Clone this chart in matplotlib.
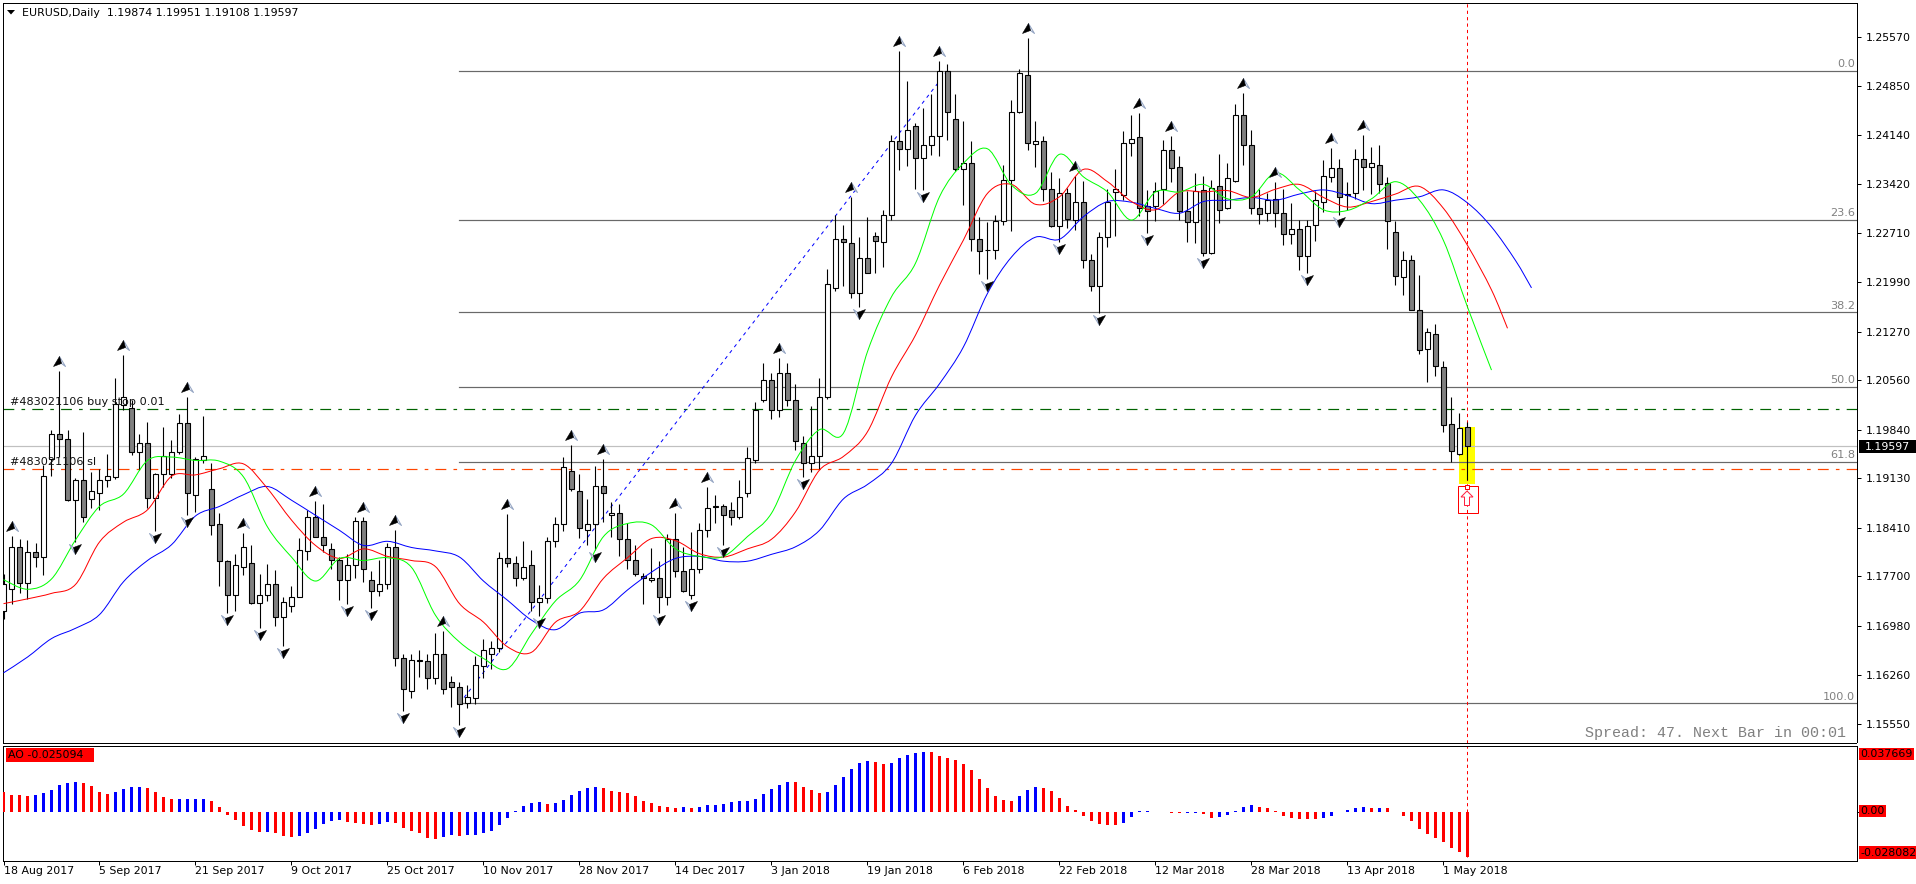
import matplotlib
matplotlib.use("Agg")
import matplotlib.pyplot as plt
import numpy as np
from matplotlib.patches import Rectangle, Polygon, PathPatch
from matplotlib.path import Path
from matplotlib.transforms import Affine2D, ScaledTranslation

W, H = 1916, 884
PX = 0.72  # one pixel in points at 100 dpi

# EURUSD daily quotes, in units of 0.0001
highs = [
 11774,11829,11824,11823,11819,11932,11983,12069,11983,11913,11980,11922,11927,11949,12059,12093,12028,11978,11995,11921,
 11988,11969,12007,12032,11944,12004,11936,11862,11794,11803,11833,11815,11773,11788,11779,11739,11756,11826,11867,11880,
 11875,11819,11798,11803,11857,11857,11777,11793,11818,11837,11657,11657,11662,11656,11687,11690,11624,11615,11611,11654,
 11678,11675,11805,11861,11800,11821,11808,11757,11827,11856,11944,11961,11920,11883,11931,11941,11878,11876,11848,11815,
 11775,11811,11792,11831,11862,11812,11834,11848,11901,11889,11875,11878,11910,11958,12025,12081,12066,12088,12082,12051,
 11975,12018,12059,12218,12297,12283,12323,12265,12295,12273,12305,12414,12537,12493,12431,12453,12474,12522,12518,12474,
 12434,12405,12294,12287,12297,12370,12465,12510,12556,12434,12412,12360,12351,12337,12354,12347,12241,12272,12335,12364,
 12420,12443,12446,12334,12345,12407,12412,12383,12333,12358,12354,12349,12387,12373,12460,12476,12421,12335,12330,12345,
 12335,12315,12290,12290,12332,12378,12395,12379,12345,12393,12414,12397,12400,12353,12289,12245,12239,12210,12132,12138,
 12084,12031,12008,11995.1]
lows = [
 11708,11730,11745,11737,11784,11772,11916,11944,11880,11820,11849,11869,11866,11901,11912,12012,11947,11925,11870,11836,
 11901,11914,11948,11859,11864,11935,11830,11756,11716,11719,11772,11729,11694,11734,11697,11668,11718,11739,11793,11827,
 11806,11781,11735,11729,11768,11762,11723,11741,11752,11639,11573,11592,11623,11605,11613,11598,11579,11553,11578,11584,
 11622,11635,11660,11784,11756,11764,11720,11712,11731,11813,11836,11894,11826,11815,11809,11849,11828,11799,11780,11771,
 11729,11761,11717,11728,11769,11747,11737,11775,11828,11848,11815,11845,11854,11886,11936,12024,12000,12003,12018,11954,
 11915,11922,11927,12029,12186,12194,12176,12163,12213,12213,12222,12290,12363,12369,12335,12334,12385,12383,12407,12361,
 12312,12245,12211,12204,12233,12283,12274,12447,12392,12368,12318,12280,12258,12278,12276,12220,12186,12154,12250,12267,
 12319,12383,12296,12271,12289,12314,12346,12290,12258,12256,12237,12240,12285,12306,12346,12371,12299,12284,12289,12280,
 12253,12255,12217,12213,12259,12302,12346,12298,12305,12321,12334,12328,12329,12248,12195,12180,12159,12094,12053,12063,
 11980,11937,11947,11910.8]
opens = [
 11720,11752,11813,11760,11806,11798,11941,11978,11971,11881,11910,11883,11891,11911,11915,12020,12015,11952,11965,11884,
 11919,11919,11951,11993,11889,11940,11898,11846,11792,11743,11784,11789,11731,11743,11758,11710,11727,11739,11807,11857,
 11828,11810,11794,11765,11786,11851,11764,11748,11759,11812,11650,11603,11648,11646,11622,11656,11615,11608,11585,11592,
 11639,11657,11665,11796,11789,11768,11786,11732,11738,11821,11847,11924,11895,11838,11846,11902,11860,11863,11824,11794,
 11771,11764,11768,11740,11824,11777,11743,11780,11838,11871,11872,11867,11857,11892,11940,12028,12057,12013,12066,12027,
 11965,11935,11946,12031,12191,12262,12257,12183,12235,12267,12258,12297,12406,12393,12427,12381,12400,12412,12508,12437,
 12365,12374,12262,12247,12247,12289,12349,12448,12502,12401,12405,12336,12282,12329,12290,12316,12232,12193,12265,12331,
 12326,12403,12411,12311,12311,12335,12392,12367,12303,12287,12334,12242,12339,12307,12347,12444,12400,12307,12300,12321,
 12300,12269,12277,12238,12283,12317,12353,12366,12328,12330,12379,12368,12371,12344,12272,12207,12231,12159,12102,12123,
 12076,11992,11949,11987.4]
closes = [
 11758,11812,11760,11806,11798,11917,11978,11971,11881,11910,11857,11894,11911,11916,12021,12032,11952,11965,11884,11919,
 11945,11952,11993,11892,11941,11946,11845,11792,11743,11786,11813,11731,11743,11758,11710,11732,11739,11808,11857,11828,
 11816,11794,11765,11786,11851,11780,11748,11759,11812,11650,11606,11648,11646,11622,11656,11606,11608,11584,11594,11641,
 11663,11665,11796,11790,11768,11784,11733,11738,11821,11847,11929,11897,11841,11846,11902,11892,11863,11825,11794,11773,
 11768,11768,11740,11825,11777,11749,11781,11838,11870,11872,11860,11857,11886,11942,12013,12057,12013,12067,12028,11967,
 11936,11946,12031,12196,12262,12258,12184,12235,12213,12260,12297,12406,12394,12421,12381,12400,12412,12508,12448,12365,
 12374,12262,12245,12246,12289,12349,12448,12504,12403,12406,12336,12282,12329,12292,12316,12232,12193,12265,12317,12335,
 12403,12409,12308,12303,12333,12392,12366,12303,12287,12333,12242,12337,12305,12351,12443,12400,12307,12299,12319,12301,
 12269,12277,12238,12281,12320,12355,12366,12324,12326,12379,12368,12373,12343,12288,12208,12231,12159,12101,12127,12077,
 11991,11953,11987,11959.7]

# Alligator balance lines, sampled every third bar (same units as the quotes)
lips = [
 11765,11751,11766,11823,11872,11890,11939,11944,11939,11938,11915,11842,11798,11763,11796,11793,11797,11783,11713,11674,
 11650,11635,11686,11734,11764,11828,11847,11845,11810,11799,11799,11828,11862,11939,11984,11979,12098,12178,12227,12324,
 12373,12394,12341,12329,12386,12353,12331,12290,12331,12331,12342,12321,12324,12359,12334,12305,12304,12321,12346,12319,
 12260,12163,12071]
lips_bars = list(range(0, 187, 3))
teeth = [
 11730,11737,11745,11758,11820,11849,11867,11916,11918,11927,11934,11898,11852,11815,11796,11810,11799,11793,11784,11730,
 11703,11667,11659,11703,11719,11767,11797,11825,11822,11803,11798,11810,11824,11864,11925,11945,11981,12061,12122,12195,
 12261,12329,12342,12313,12324,12364,12346,12317,12305,12331,12331,12333,12323,12335,12342,12323,12309,12317,12328,12339,
 12307,12253,12188,12132]
teeth_bars = list(range(0, 187, 3)) + [188]
jaw = [
 11629,11652,11679,11694,11714,11762,11793,11816,11858,11872,11889,11901,11881,11859,11837,11815,11821,11812,11807,11798,
 11763,11735,11706,11692,11716,11721,11750,11776,11796,11799,11792,11792,11802,11813,11837,11883,11904,11935,12005,12051,
 12105,12183,12236,12265,12262,12295,12317,12316,12307,12300,12317,12319,12323,12319,12328,12334,12326,12314,12319,12324,
 12334,12315,12280,12231,12191]
jaw_bars = list(range(0, 190, 3)) + [191]

# Awesome Oscillator, in units of 0.001
ao = [
 12.5,10.7,10.7,10.0,10.7,11.9,13.8,16.9,18.2,18.8,18.2,16.3,12.5,11.3,12.5,14.4,15.7,15.7,15.0,12.5,
 9.4,8.2,8.2,8.2,8.2,8.2,6.9,3.1,-1.7,-5.0,-8.8,-11.3,-12.5,-12.5,-13.2,-15.0,-15.7,-15.0,-13.2,-10.7,
 -7.5,-5.6,-5.0,-6.3,-6.9,-7.5,-8.2,-7.5,-6.3,-6.9,-10.0,-11.9,-13.2,-16.3,-16.9,-15.7,-14.4,-15.0,-14.4,-14.4,
 -13.2,-11.9,-8.2,-3.8,0.6,3.8,5.6,6.3,5.0,5.6,7.5,10.7,13.2,15.0,15.7,15.0,13.2,12.5,11.9,10.0,
 6.9,5.6,3.8,3.1,2.5,3.1,2.5,3.1,4.4,4.4,5.0,6.3,6.9,6.9,8.2,11.3,14.4,16.9,18.8,18.8,
 15.7,13.8,11.9,12.5,16.9,21.9,27.0,30.7,32.0,31.4,30.1,30.7,33.9,35.7,37.0,37.669,37.6,35.1,33.9,32.6,
 30.1,26.3,20.7,15.0,10.0,7.5,6.9,10.0,13.8,15.7,15.0,13.2,8.8,3.8,1.3,-2.5,-5.6,-7.5,-8.2,-8.2,
 -6.9,-3.1,0.4,0.4,-0.2,-0.4,-0.8,-0.8,-0.8,-0.8,-1.3,-3.8,-3.1,-1.9,0.6,3.1,4.4,3.1,2.5,0.4,
 -2.5,-3.8,-4.4,-4.8,-4.8,-4.2,-2.5,-0.2,1.3,2.5,3.3,2.7,2.7,2.1,-0.2,-2.9,-5.9,-10.5,-14.2,-16.7,
 -19.2,-23.0,-25.094,-28.082]
ao_runs = [("R",4),("B",6),("R",4),("B",4),("R",4),("B",4),("R",7),("B",1),("R",3),("B",6),("R",4),("B",2),
           ("R",6),("B",2),("R",1),("B",10),("R",1),("B",6),("R",10),("B",1),("R",1),("B",12),("R",4),("B",6),
           ("R",2),("B",5),("R",11),("B",3),("R",10),("B",4),("R",4),("B",2),("R",2),("B",5),("R",8),("B",6),
           ("R",1),("B",1),("R",11)]

# Bars carrying a Bill Williams fractal
fractal_up = [1,7,15,23,30,39,45,49,55,63,71,75,84,88,97,106,112,117,128,134,142,146,155,159,166,170]
fractal_down = [9,19,23,28,32,35,43,46,50,57,67,74,82,86,90,100,107,115,123,132,137,143,150,163,167]

# Fibonacci retracement anchors and levels
fib_high = 1.25081
fib_low = 1.15843
fib_start_bar = 57
fib_end_bar = 118
fib_levels = [("0.0", 0.0), ("23.6", 0.236), ("38.2", 0.382), ("50.0", 0.5), ("61.8", 0.618), ("100.0", 1.0)]

price_ticks = [1.25570,1.24850,1.24140,1.23420,1.22710,1.21990,1.21270,1.20560,1.19840,1.19130,1.18410,1.17700,1.16980,1.16260,1.15550]
date_labels = ["18 Aug 2017","5 Sep 2017","21 Sep 2017","9 Oct 2017","25 Oct 2017","10 Nov 2017","28 Nov 2017","14 Dec 2017",
               "3 Jan 2018","19 Jan 2018","6 Feb 2018","22 Feb 2018","12 Mar 2018","28 Mar 2018","13 Apr 2018","1 May 2018"]

bid = 1.19597
buy_stop = 1.20135
stop_loss = 1.19268
last_bar = 183
highlight_top, highlight_bottom = 1.19877, 1.19045

to_price = lambda a: np.asarray(a, float) / 1e4
highs_p, lows_p, opens_p, closes_p = map(to_price, (highs, lows, opens, closes))
bars = np.arange(len(highs))

plt.rcParams["font.family"] = ["DejaVu Sans"]
plt.rcParams["font.size"] = 11 * PX
plt.rcParams["axes.linewidth"] = PX

fig = plt.figure(figsize=(W / 100, H / 100), dpi=100, facecolor="white")
pixels = Affine2D().scale(1, -1).translate(0, H)

def frame(left, top, right, bottom):
    return fig.add_axes([left / W, 1 - bottom / H, (right - left) / W, (bottom - top) / H])

LEFT, RIGHT = 2.5, 1856.5
ax = frame(LEFT, 2.5, RIGHT, 742.5)
sub = frame(LEFT, 745.5, RIGHT, 860.5)
bar_lim = ((LEFT - 3.5) / 8, (RIGHT - 3.5) / 8)
for a in (ax, sub):
    a.set_xlim(*bar_lim)
    a.set_facecolor("white")
ax.set_ylim(1.15273, 1.26076)
sub.set_ylim(-0.03057, 0.04162)

# Highlight behind the last candle
ax.add_patch(Rectangle((last_bar - 1.06, highlight_bottom), 2.0, highlight_top - highlight_bottom,
                       facecolor="#ffff00", edgecolor="none", zorder=1))

# Horizontal levels
for label, ratio in fib_levels:
    level = fib_high - ratio * (fib_high - fib_low)
    ax.plot([fib_start_bar, bar_lim[1]], [level, level], color="#696969", lw=1.2 * PX, zorder=1.5)
    ax.text(bar_lim[1] - 0.2, level + 0.00025, label, color="#808080", ha="right", va="bottom", fontsize=11.2 * PX)
ax.plot([fib_start_bar, fib_end_bar], [fib_low, fib_high], color="#0000ff", lw=PX,
        linestyle=(0, (3.5, 4)), zorder=1.6)
ax.axhline(bid, color="#c0c0c0", lw=1.2 * PX, zorder=1.5)
ax.axhline(buy_stop, color="#006400", lw=1.2 * PX, linestyle=(0, (9, 6, 3, 6)), zorder=1.5)
ax.axhline(stop_loss, color="#ff4500", lw=1.2 * PX, linestyle=(0, (9, 6, 3, 6)), zorder=1.5)
ax.text(0.85, buy_stop + 0.00032, "#483021106 buy stop 0.01", color="#101010", va="bottom", fontsize=11.3 * PX, zorder=6)
ax.text(0.85, stop_loss + 0.00032, "#483021106 sl", color="#101010", va="bottom", fontsize=11.3 * PX, zorder=6)

# Current-bar marker line across both panels, ending at the oscillator's last bar
ax.axvline(last_bar, color="#ff0000", lw=PX, linestyle=(0, (3.2, 3.2)), zorder=1.7)
sub.plot([last_bar, last_bar], [ao[-1] / 1e3, sub.get_ylim()[1]], color="#ff0000", lw=PX,
         linestyle=(0, (3.2, 3.2)), zorder=1.7)

# Candles
ax.vlines(bars, lows_p, highs_p, color="black", lw=1.1 * PX, zorder=3)
rising = closes_p >= opens_p
ax.bar(bars, np.abs(closes_p - opens_p), bottom=np.minimum(opens_p, closes_p), width=4.2 / 8,
       color=np.where(rising, "white", "#808080"), edgecolor="black", linewidth=1.1 * PX, zorder=3.2)

def smooth_line(axes, xs, ys, colour, z):
    """Draw a curve through the given values with Catmull-Rom style Bezier segments."""
    pts = np.column_stack([xs, ys])
    prev = np.vstack([pts[0], pts[:-1]])
    nxt = np.vstack([pts[1:], pts[-1]])
    verts = [pts[0]]
    codes = [Path.MOVETO]
    for k in range(len(pts) - 1):
        verts += [pts[k] + (nxt[k] - prev[k]) / 6, pts[k + 1] - (nxt[k + 1] - prev[k + 1]) / 6, pts[k + 1]]
        codes += [Path.CURVE4] * 3
    axes.add_patch(PathPatch(Path(verts, codes), fill=False, edgecolor=colour, lw=PX, zorder=z))

# Alligator lines
smooth_line(ax, jaw_bars, to_price(jaw), "#0000ff", 4)
smooth_line(ax, teeth_bars, to_price(teeth), "#ff0000", 4.1)
smooth_line(ax, lips_bars, to_price(lips), "#00ff00", 4.2)

# Fractal arrows: a dark half and a pale half, offset from the wick ends
dark_up = Path([(0, 5), (-6, -5), (2, -2), (0, 5)], closed=True)
pale_up = Path([(0, 5), (6, -5), (2, -2), (0, 5)], closed=True)
dark_dn = Path([(0, -5), (6, 5), (-2, 2), (0, -5)], closed=True)
pale_dn = Path([(0, -5), (-6, 5), (-2, 2), (0, -5)], closed=True)
ms = 6 / 0.5 * PX
up_shift = ax.transData + ScaledTranslation(0, 10 / 100, fig.dpi_scale_trans)
dn_shift = ax.transData + ScaledTranslation(0, -7 / 100, fig.dpi_scale_trans)
up_y = highs_p[fractal_up]
dn_y = lows_p[fractal_down]
ax.plot(fractal_up, up_y, ls="", marker=pale_up, ms=ms, mfc="white", mec="#93a4c2", mew=PX, transform=up_shift, zorder=5)
ax.plot(fractal_up, up_y, ls="", marker=dark_up, ms=ms, mfc="black", mec="black", mew=0.5 * PX, transform=up_shift, zorder=5.1)
ax.plot(fractal_down, dn_y, ls="", marker=pale_dn, ms=ms, mfc="white", mec="#93a4c2", mew=PX, transform=dn_shift, zorder=5)
ax.plot(fractal_down, dn_y, ls="", marker=dark_dn, ms=ms, mfc="black", mec="black", mew=0.5 * PX, transform=dn_shift, zorder=5.1)

# Price scale
ax.yaxis.tick_right()
ax.set_yticks(price_ticks)
ax.set_yticklabels([f"{p:.5f}" for p in price_ticks])
ax.tick_params(axis="y", direction="out", length=4 * PX, width=PX, pad=5 * PX, labelsize=11 * PX)
ax.set_xticks([])

# Awesome Oscillator histogram
ao_colours = [{"R": "#ff0000", "B": "#0000ff"}[c] for c, n in ao_runs for _ in range(n)]
sub.bar(bars, np.asarray(ao) / 1e3, width=2.8 / 8, color=ao_colours, linewidth=0, zorder=3)
sub.yaxis.tick_right()
sub.set_yticks([0])
sub.set_yticklabels([""])
sub.tick_params(axis="y", direction="out", length=4 * PX, width=PX)
sub.set_xticks(bars[::12])
sub.set_xticklabels(date_labels, ha="left")
sub.tick_params(axis="x", direction="out", length=4 * PX, width=PX, pad=2 * PX, labelsize=11 * PX)

def box_label(text, x0, x1, y0, y1, face, colour="black", tx=None):
    fig.add_artist(Rectangle((x0, y0), x1 - x0, y1 - y0, transform=pixels, facecolor=face, edgecolor="none", zorder=8))
    fig.text((x0 + 1 if tx is None else tx) / W, 1 - (y0 + y1) / 2 / H, text, color=colour,
             ha="left", va="center", fontsize=11 * PX, zorder=9)

box_label("1.19597", 1859, 1916, 440, 453, "black", "white", tx=1865)
box_label("0.037669", 1859, 1914, 748, 760, "#ff0000", tx=1860)
box_label("0.00", 1859, 1886, 805, 817, "#ff0000", tx=1860)
box_label("-0.028082", 1859, 1916, 846, 859, "#ff0000", tx=1860)
box_label("AO -0.025094", 6, 94, 748, 762, "#ff0000", tx=8)

# Chart header
fig.add_artist(Polygon([(7, 10), (15, 10), (11, 14.5)], closed=True, transform=pixels, facecolor="black", edgecolor="none"))
fig.text(21.5 / W, 1 - 12.5 / H, "EURUSD,Daily  1.19874 1.19951 1.19108 1.19597", color="black",
         ha="left", va="center", fontsize=11 * PX)

# Spread readout
fig.text(1846 / W, 1 - 732.5 / H, "Spread: 47. Next Bar in 00:01", color="#808080", ha="right", va="center",
         family="Liberation Mono", fontsize=15 * PX)

# Alert arrow under the last candle
fig.add_artist(Rectangle((1457.5, 485.5), 20.5, 27, transform=pixels, facecolor="none", edgecolor="#ff0000", lw=PX, zorder=7))
fig.add_artist(Polygon([(1467, 491), (1473, 497), (1469.5, 497), (1469.5, 505.5), (1464.5, 505.5), (1464.5, 497), (1461, 497)],
                       closed=True, transform=pixels, facecolor="white", edgecolor="#ff2040", lw=PX, zorder=7))
fig.add_artist(Rectangle((1465, 484.5), 4, 4, transform=pixels, facecolor="white", edgecolor="#ff0000", lw=PX, zorder=7.5))

fig.savefig("out.png", dpi=100, facecolor="white")
